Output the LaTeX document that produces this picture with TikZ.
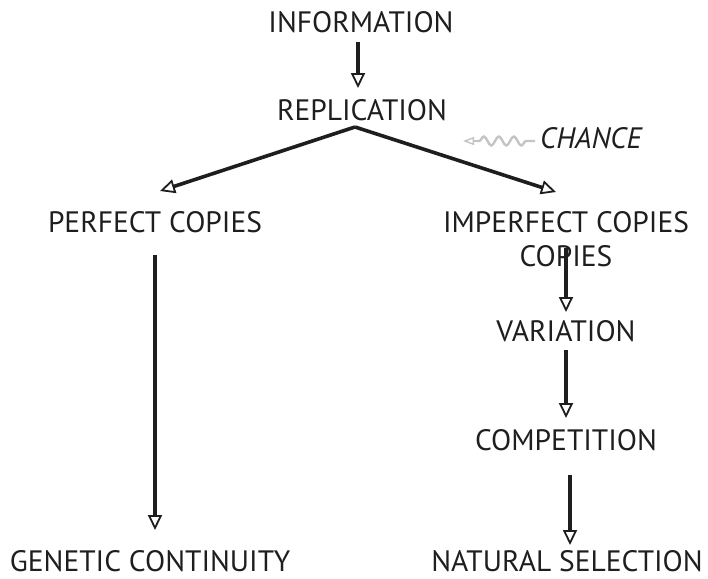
\documentclass[tikz,border=0pt]{standalone}
\usepackage{fontspec}
\setmainfont{PT Sans}
\usetikzlibrary{arrows.meta,decorations.pathmorphing,calc}
\definecolor{ink}{HTML}{1E1E1E}
\definecolor{wave}{HTML}{C4C4C4}
\tikzset{
  lbl/.style={inner sep=0pt, text=ink, font=\fontsize{29.5}{34}\selectfont},
  arr/.style={draw=ink, line width=3.6pt, -{Triangle[open, width=14pt, length=15pt, line width=1.8pt]}},
}
\begin{document}
\begin{tikzpicture}[x=1pt,y=-1pt]
\useasboundingbox (0,0) rectangle (708,578);
\node[lbl] (info) at (361,22) {INFORMATION};
\node[lbl] (rep) at (362,110) {REPLICATION};
\node[lbl] (perf) at (155,222) {PERFECT COPIES};
\node[lbl, align=center] (imp) at (566,239) {IMPERFECT COPIES\\COPIES};
\node[lbl] (var) at (566,331) {VARIATION};
\node[lbl] (comp) at (566,440) {COMPETITION};
\node[lbl] (gen) at (150,561) {GENETIC CONTINUITY};
\node[lbl] (nat) at (567,561) {NATURAL SELECTION};
\node[lbl, font=\fontsize{29.5}{34}\selectfont\itshape, anchor=west] (chance) at (540,138) {CHANCE};
\coordinate (apex) at ($(rep.center)+(-7,17)$);
\draw[arr] ($(info.center)+(-3,20)$) -- ($(rep.center)+(-4,-22)$);
\draw[arr, line join=miter] (apex) -- ($(perf.center)+(5,-31)$);
\draw[arr] (apex) -- ($(imp.center)+(-10,-47)$);
\draw[arr] ($(perf.center)+(0,33)$) -- ($(gen.center)+(5,-31)$);
\draw[arr] ($(imp.center)+(0,9)$) -- ($(var.center)+(0,-19)$);
\draw[arr] ($(var.center)+(0,19)$) -- ($(comp.center)+(0,-22)$);
\draw[arr] ($(comp.center)+(4,35)$) -- ($(nat.center)+(3,-16)$);
\coordinate (wtip) at ($(chance.west)+(-77,3)$);
\draw[wave, line width=2.4pt, decorate, decoration={snake, amplitude=4.5pt, segment length=15pt, pre length=9pt, post length=0pt}] ($(chance.west)+(-5,3)$) -- ($(wtip)+(13,0)$);
\draw[wave, line width=2.2pt, -{Triangle[open, width=8pt, length=11pt, line width=1.4pt]}] ($(wtip)+(14,0)$) -- (wtip);
\end{tikzpicture}
\end{document}
